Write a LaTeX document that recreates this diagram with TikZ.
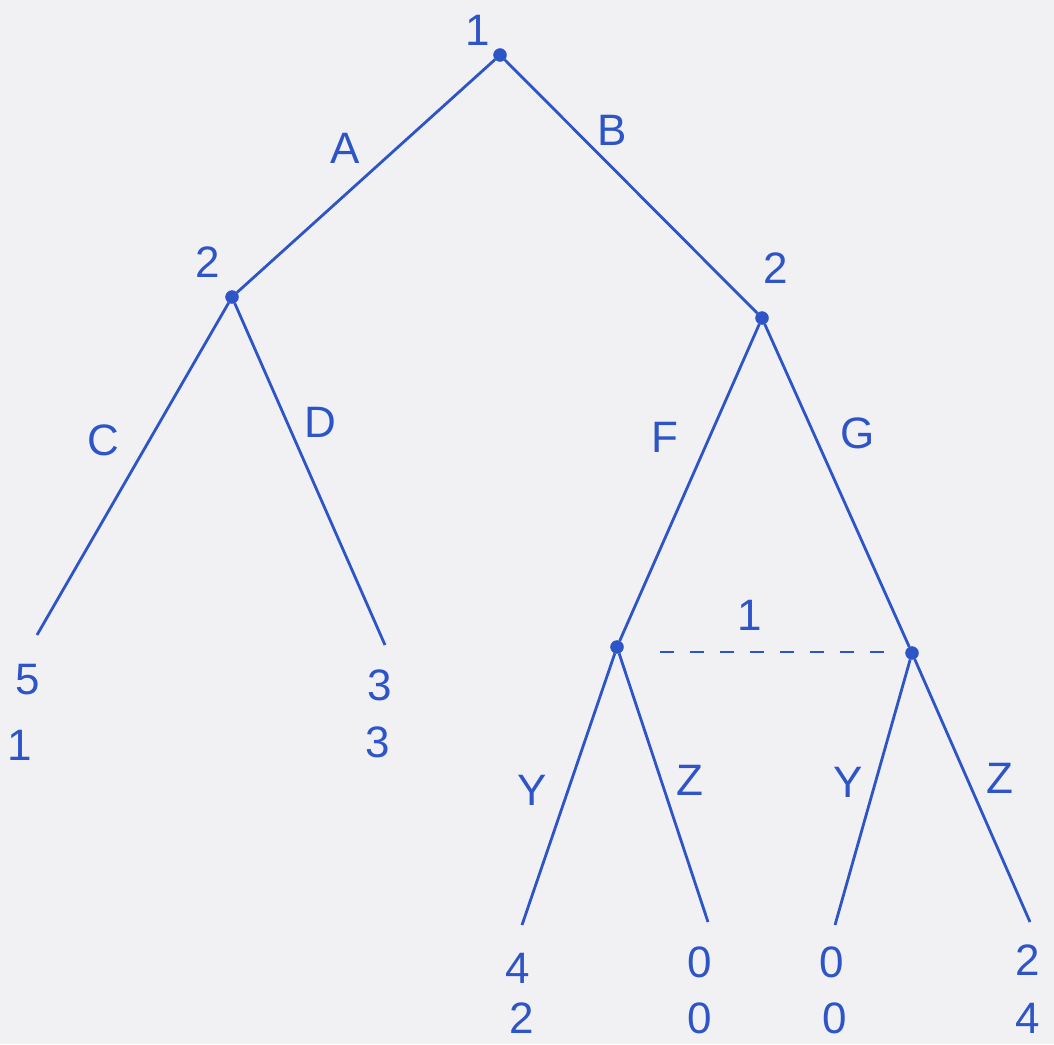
\documentclass[tikz,border=0pt]{standalone}
\usepackage{fontspec}
\setmainfont{Liberation Sans}
\definecolor{pen}{RGB}{45,85,200}
\definecolor{paper}{RGB}{241,241,243}
\tikzset{
  dotnode/.style={circle,fill=pen,draw=pen,inner sep=0pt,minimum size=13pt},
  lbl/.style={text=pen,inner sep=0pt,font=\fontsize{44}{46}\selectfont},
  edge/.style={draw=pen,line width=2.8pt},
  infoset/.style={draw=pen,line width=2.4pt,dash pattern=on 14pt off 16pt}
}
\begin{document}
\begin{tikzpicture}[x=1pt,y=-1pt]
\fill[paper] (0,0) rectangle (1054,1044);
\useasboundingbox (0,0) rectangle (1054,1044);
% decision nodes
\node[dotnode] (root) at (500,55) {};
\node[dotnode] (l2) at (232,297) {};
\node[dotnode] (r2) at (762,318) {};
\node[dotnode] (f1) at (617,647) {};
\node[dotnode] (g1) at (912,653) {};
% leaves
\coordinate (cl) at (37,635);
\coordinate (dl) at (385,645);
\coordinate (yl) at (522,925);
\coordinate (zl) at (708,922);
\coordinate (yr) at (835,925);
\coordinate (zr) at (1030,922);
\coordinate (is1) at (660,652);
\coordinate (is2) at (885,652);
% edges
\draw[edge] (root) -- (l2);
\draw[edge] (root) -- (r2);
\draw[edge] (l2) -- (cl);
\draw[edge] (l2) -- (dl);
\draw[edge] (r2) -- (f1);
\draw[edge] (r2) -- (g1);
\draw[edge] (f1) -- (yl);
\draw[edge] (f1) -- (zl);
\draw[edge] (g1) -- (yr);
\draw[edge] (g1) -- (zr);
\draw[infoset] (is1) -- (is2);
% player labels
\node[lbl] (p1) at (478,30) {1};
\node[lbl] (p2l) at (208,262) {2};
\node[lbl] (p2r) at (776,268) {2};
\node[lbl] (p1i) at (750,615) {1};
% action labels
\node[lbl] (la) at (345,148) {A};
\node[lbl] (lb) at (612,130) {B};
\node[lbl] (lc) at (103,440) {C};
\node[lbl] (ld) at (320,422) {D};
\node[lbl] (lf) at (665,437) {F};
\node[lbl] (lg) at (858,433) {G};
\node[lbl] (ly1) at (532,790) {Y};
\node[lbl] (lz1) at (690,780) {Z};
\node[lbl] (ly2) at (848,782) {Y};
\node[lbl] (lz2) at (1000,778) {Z};
% payoffs
\node[lbl] (c1) at (28,680) {5};
\node[lbl] (c2) at (20,745) {1};
\node[lbl] (d1) at (380,685) {3};
\node[lbl] (d2) at (378,742) {3};
\node[lbl] (y11) at (518,968) {4};
\node[lbl] (y12) at (522,1018) {2};
\node[lbl] (z11) at (700,962) {0};
\node[lbl] (z12) at (700,1018) {0};
\node[lbl] (y21) at (832,962) {0};
\node[lbl] (y22) at (835,1018) {0};
\node[lbl] (z21) at (1028,960) {2};
\node[lbl] (z22) at (1028,1018) {4};
\end{tikzpicture}
\end{document}
